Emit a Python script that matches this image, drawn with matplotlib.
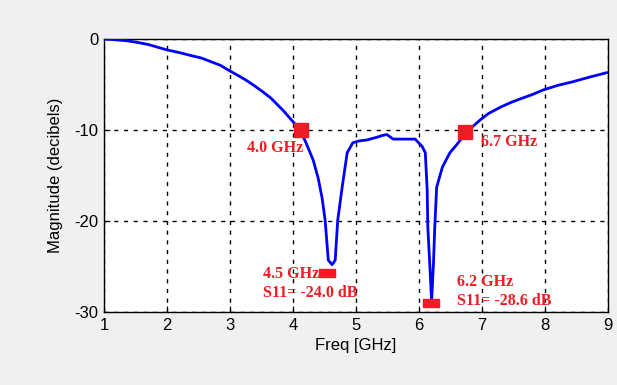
import matplotlib
matplotlib.use("Agg")
import matplotlib.pyplot as plt

plt.rcParams["axes.unicode_minus"] = False

freq = [1.0, 1.1, 1.2, 1.37, 1.55, 1.7, 1.85, 2.0, 2.2, 2.37, 2.55, 2.7, 2.85, 2.97, 3.1, 3.25, 3.4, 3.52, 3.65,
        3.75, 3.85, 3.95, 4.04, 4.11, 4.2, 4.32, 4.4, 4.46, 4.51, 4.56,
        4.62, 4.67, 4.71, 4.78, 4.86, 4.95, 5.05, 5.17, 5.33, 5.42, 5.49, 5.59, 5.75, 5.94, 5.98, 6.05, 6.1, 6.13,
        6.14, 6.17, 6.2, 6.23, 6.25, 6.28, 6.37, 6.49, 6.6, 6.68, 6.73, 6.84, 6.97, 7.1, 7.29, 7.45, 7.6, 7.8,
        7.97, 8.2, 8.44, 8.7, 8.98]
mag = [0.0, -0.05, -0.1, -0.2, -0.4, -0.6, -0.9, -1.2, -1.5, -1.8, -2.1, -2.5, -2.9, -3.4, -3.9, -4.5, -5.2,
       -5.8, -6.5, -7.2, -7.9, -8.7, -9.4, -10.0, -11.3, -13.3, -15.3, -17.4,
       -19.9, -24.3, -24.8, -24.3, -19.9, -16.3, -12.5, -11.4, -11.2, -11.1, -10.8, -10.6, -10.5, -11.0, -11.0,
       -11.0, -11.3, -11.8, -12.5, -16.6, -20.7, -24.6, -28.9, -24.6, -20.7, -16.3, -14.1, -12.5, -11.6, -10.9,
       -10.2, -9.7, -8.9, -8.2, -7.5, -7.0, -6.6, -6.1, -5.6, -5.1, -4.7, -4.2, -3.7]

marker_f = [4.12, 6.73]
marker_db = [-10.0, -10.2]
min_f = [4.54, 6.19]
min_db = [-25.7, -29.0]
labels = ["4.0 GHz", "6.7 GHz"]
min_labels = ["4.5 GHz\nS11= -24.0 dB", "6.2 GHz\nS11= -28.6 dB"]

fig = plt.figure(figsize=(6.17, 3.85), dpi=100, facecolor="#f0f0f0")
ax = fig.add_axes([104/617, 73/385, 504/617, 273/385])
ax.plot(freq, mag, color="#0000ff", lw=2.0, zorder=3)
ax.plot(marker_f, marker_db, "s", color="#ee1c24", ms=9.5, zorder=4, clip_on=False)
rect = [(-1.8, -1), (1.8, -1), (1.8, 1), (-1.8, 1), (-1.8, -1)]
ax.plot(min_f, min_db, linestyle="none", marker=rect, color="#ee1c24", ms=11, zorder=4, clip_on=False)

red = "#ee1c24"
tk = dict(color=red, fontfamily="Liberation Serif", fontweight="bold", fontsize=11.5)
ax.text(3.27, -12.0, labels[0], va="center", ha="left", **tk)
ax.text(6.99, -11.3, labels[1], va="center", ha="left", **tk)
ax.text(3.52, -26.9, min_labels[0], va="center", ha="left", linespacing=1.25, **tk)
ax.text(6.6, -27.7, min_labels[1], va="center", ha="left", linespacing=1.25, **tk)

ax.set_xlim(1, 9)
ax.set_ylim(-30, 0)
ax.set_xticks(range(1, 10))
ax.set_yticks([0, -10, -20, -30])
ax.grid(True, color="black", linestyle=(0, (3, 4)), lw=1.0)
ax.set_axisbelow(True)
ax.tick_params(direction="in", length=4, labelsize=12, pad=4)
for lab in ax.get_xticklabels() + ax.get_yticklabels():
    lab.set_fontfamily("Liberation Sans")
for s in ax.spines.values():
    s.set_color("black")
    s.set_linewidth(1.0)
ax.set_xlabel("Freq [GHz]", fontsize=12, fontfamily="Liberation Sans", labelpad=4)
ax.set_ylabel("Magnitude (decibels)", fontsize=12, fontfamily="Liberation Sans", labelpad=8)
fig.savefig("out.png", dpi=100, facecolor=fig.get_facecolor())
